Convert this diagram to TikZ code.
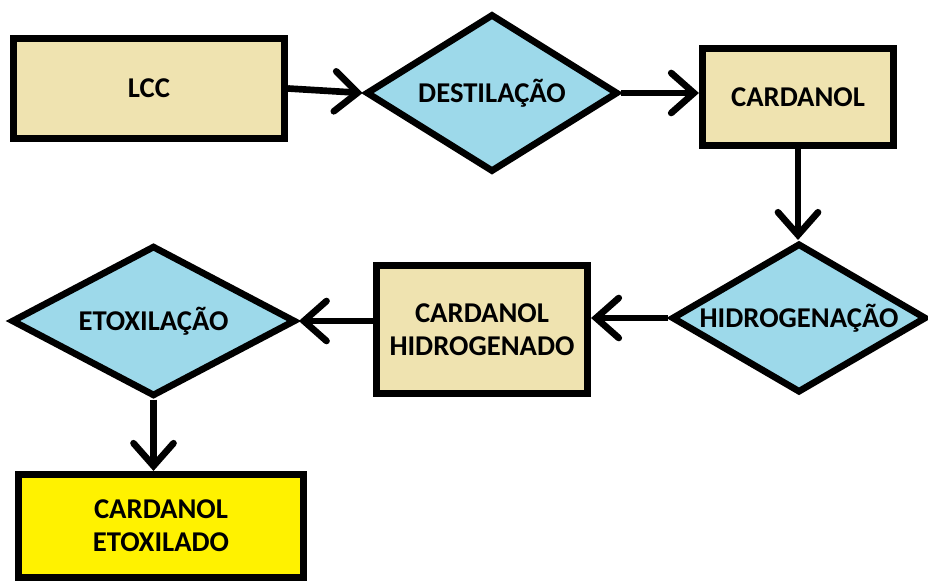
\documentclass[tikz,border=0pt]{standalone}
\usepackage{fontspec}
\setmainfont{Carlito}
\usetikzlibrary{arrows.meta,shapes.geometric}
\definecolor{ink}{HTML}{000000}
\definecolor{sand}{HTML}{EFE3B0}
\definecolor{sky}{HTML}{9DD9EA}
\definecolor{lemon}{HTML}{FFF200}

\tikzset{
  stage/.style={draw=ink,line width=5pt,fill=sand,rectangle,align=center,
    font=\fontsize{21.5}{25}\selectfont\bfseries},
  process/.style={draw=ink,line width=5pt,fill=sky,diamond,inner sep=0pt,
    font=\fontsize{21.5}{25}\selectfont\bfseries},
  flow/.style={draw=ink,line width=5pt,
    -{Straight Barb[length=17pt,width=30pt,line cap=round]}}
}

\begin{document}
\begin{tikzpicture}[x=0.75pt,y=-0.75pt]
        \useasboundingbox (0,0) rectangle (928,581);
        % top row
        \node[stage,minimum width=203.6pt,minimum height=75.4pt] (lcc) at (149,88.5) {LCC};
        \node[process,minimum width=189pt,minimum height=118.5pt,shape aspect=1.59] (destil) at (492,93) {DESTILAÇÃO};
        \node[stage,minimum width=143.6pt,minimum height=73.1pt] (card) at (798,97) {CARDANOL};
        % middle row
        \node[process,minimum width=191pt,minimum height=112pt,shape aspect=1.71] (hidro) at (799,318) {HIDROGENAÇÃO};
        \node[stage,minimum width=158.6pt,minimum height=96.4pt] (hgen) at (482,329.5) {CARDANOL\\HIDROGENADO};
        \node[process,minimum width=213pt,minimum height=113pt,shape aspect=1.88] (etox) at (153.5,321) {ETOXILAÇÃO};
        % product
        \node[stage,fill=lemon,minimum width=214.1pt,minimum height=77.6pt] (etoxd) at (161,526) {CARDANOL\\ETOXILADO};
        % connectors
        \draw[flow] (lcc.east) -- (destil.west);
        \draw[flow] (destil.east) -- (destil.east -| card.west);
        \draw[flow] (card.south) -- (card.south |- hidro.north);
        \draw[flow] (hidro.west) -- (hidro.west -| hgen.east);
        \draw[flow] (hgen.west |- etox.east) -- (etox.east);
        \draw[flow] (etox.south) -- (etox.south |- etoxd.north);
      \end{tikzpicture}
\end{document}
